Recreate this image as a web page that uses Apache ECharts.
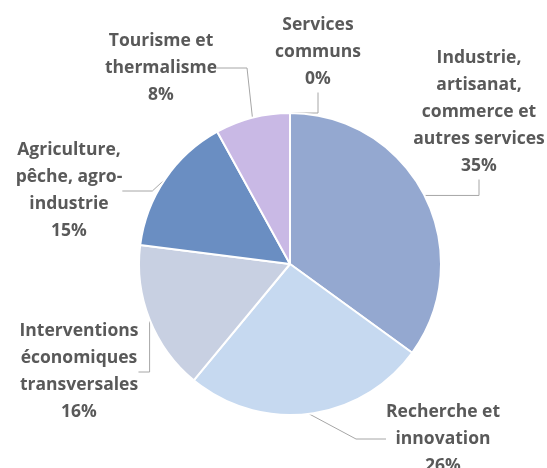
<!DOCTYPE html>
<html lang="fr">
<head>
    <meta charset="UTF-8">
    <title>Répartition</title>
    <script src="https://cdn.jsdelivr.net/npm/echarts@6/dist/echarts.min.js"></script>
    <style>
        html, body { margin: 0; padding: 0; background: #fff; }
    </style>
</head>
<body>
<div id="main" style="width:547px;height:468px"></div>
<script>
    // categories (slice order, clockwise from the top)
    let categories = [
        'Industrie,\nartisanat,\ncommerce et\nautres services',
        'Recherche et\ninnovation',
        'Interventions\néconomiques\ntransversales',
        'Agriculture,\npêche, agro-\nindustrie',
        'Tourisme et\nthermalisme',
        'Services\ncommuns'
    ];
    let values = [35, 26, 16, 15, 8, 0];
    let colors = ['#94a8d0', '#c6d9f0', '#c8d0e2', '#6a8ec2', '#c9b9e5', '#b4c7e7'];

    // where each label block is centred
    let labelSpots = [[479, 112], [443, 439], [79, 372], [69, 191], [161, 68], [318, 52]];

    let mychart = echarts.init(document.getElementById('main'));
    let option = {
        animation: false,
        series: [{
            type: 'pie',
            center: [290, 264],
            radius: 151,
            startAngle: 90,
            clockwise: true,
            stillShowZeroSum: true,
            itemStyle: {
                borderColor: '#fff',
                borderWidth: 2
            },
            label: {
                show: true,
                formatter: function (p) {
                    return p.name + '\n' + Math.round(p.percent) + '%';
                },
                overflow: 'none',
                fontFamily: 'Open Sans',
                fontWeight: 'bold',
                fontSize: 17.5,
                lineHeight: 27,
                color: '#595959',
                align: 'center',
                verticalAlign: 'middle'
            },
            labelLine: {
                show: true,
                lineStyle: { color: '#a6a6a6', width: 1 }
            },
            labelLayout: function (params) {
                let s = labelSpots[params.dataIndex];
                return { x: s[0], y: s[1], align: 'center', verticalAlign: 'middle' };
            },
            data: categories.map(function (c, i) {
                return { name: c, value: values[i], itemStyle: { color: colors[i] } };
            })
        }]
    };
    mychart.setOption(option);
</script>
</body>
</html>
